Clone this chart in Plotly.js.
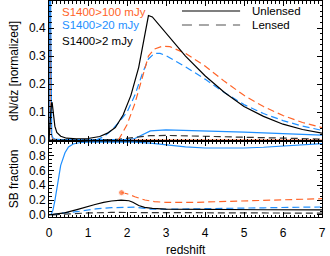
<!DOCTYPE html>
<html>
<head>
<meta charset="utf-8">
<script src="https://cdn.plot.ly/plotly-3.0.1.min.js"></script>
<style>html,body{margin:0;padding:0;background:#fff;}#chart{width:330px;height:256px;}</style>
</head>
<body>
<div id="chart"></div>
<script>
// ---------- Top panel: dN/dz [normalized] ----------
// S1400>2 mJy, unlensed (black solid)
const zTopBlackSolid = [0.0, 0.03, 0.06, 0.08, 0.11, 0.15, 0.2, 0.3, 0.45, 0.7, 1.0, 1.3, 1.5, 1.7, 1.9, 2.1, 2.3, 2.45, 2.55, 2.65, 2.8, 3.0, 3.5, 4.0, 4.5, 5.0, 5.5, 6.0, 6.5, 7.0];
const nTopBlackSolid = [0.0, 0.08, 0.13, 0.135, 0.10, 0.05, 0.028, 0.014, 0.007, 0.005, 0.006, 0.013, 0.025, 0.045, 0.09, 0.16, 0.26, 0.37, 0.445, 0.44, 0.415, 0.385, 0.30, 0.23, 0.17, 0.12, 0.085, 0.057, 0.038, 0.025];
// S1400>2 mJy, lensed (black dashed)
const zTopBlackDash = [0.0, 1.4, 1.8, 2.2, 2.6, 3.0, 4.0, 5.0, 6.0, 7.0];
const nTopBlackDash = [0.0, 0.001, 0.004, 0.01, 0.016, 0.017, 0.014, 0.01, 0.007, 0.004];
// S1400>20 mJy, unlensed (blue solid)
const zTopBlueSolid = [0.0, 0.025, 0.045, 0.07, 0.1, 0.15, 0.3, 1.0, 2.0, 2.2, 2.4, 2.6, 3.0, 4.0, 5.0, 6.0, 7.0];
const nTopBlueSolid = [0.0, 1.2, 0.4, 0.02, 0.008, 0.004, 0.002, 0.001, 0.002, 0.006, 0.02, 0.033, 0.037, 0.034, 0.029, 0.023, 0.018];
// S1400>20 mJy, lensed (blue dashed)
const zTopBlueDash = [1.2, 1.4, 1.6, 1.8, 2.0, 2.2, 2.4, 2.55, 2.7, 2.85, 3.0, 3.5, 4.0, 4.5, 5.0, 5.5, 6.0, 6.5, 7.0];
const nTopBlueDash = [0.0, 0.012, 0.035, 0.065, 0.10, 0.16, 0.24, 0.29, 0.31, 0.31, 0.302, 0.262, 0.218, 0.17, 0.127, 0.095, 0.07, 0.05, 0.035];
// S1400>100 mJy, unlensed (orange solid)
const zTopOrangeSolid = [0.0, 0.02, 0.04, 0.06, 0.1, 0.2, 7.0];
const nTopOrangeSolid = [0.0, 0.8, 0.3, 0.02, 0.002, 0.001, 0.0];
// S1400>100 mJy, lensed (orange dashed)
const zTopOrangeDash = [1.78, 1.9, 2.0, 2.2, 2.4, 2.55, 2.7, 2.9, 3.1, 3.5, 4.0, 4.5, 5.0, 5.5, 6.0, 6.5, 7.0];
const nTopOrangeDash = [0.0, 0.03, 0.055, 0.13, 0.23, 0.30, 0.325, 0.335, 0.334, 0.31, 0.265, 0.21, 0.16, 0.12, 0.088, 0.063, 0.045];

// ---------- Bottom panel: SB fraction ----------
const zBotBlueSolid = [0.05, 0.1, 0.15, 0.23, 0.3, 0.41, 0.5, 0.62, 0.8, 1.05, 1.5, 2.2, 2.6, 3.0, 3.5, 4.0, 4.5, 5.0, 5.5, 6.0, 6.5, 7.0];
const fBotBlueSolid = [0.0, 0.06, 0.19, 0.48, 0.67, 0.84, 0.92, 0.96, 0.98, 0.985, 0.985, 0.985, 0.97, 0.945, 0.92, 0.905, 0.90, 0.905, 0.915, 0.93, 0.95, 0.965];
const zBotBlackSolid = [0.0, 0.1, 0.4, 0.74, 1.0, 1.18, 1.4, 1.6, 1.85, 1.95, 2.05, 2.15, 2.3, 2.45, 2.65, 3.0, 3.7, 4.5, 5.5, 7.0];
const fBotBlackSolid = [0.0, 0.005, 0.025, 0.073, 0.115, 0.14, 0.168, 0.187, 0.2, 0.2, 0.19, 0.17, 0.125, 0.10, 0.087, 0.078, 0.073, 0.07, 0.068, 0.066];
const zBotBlueDash = [0.05, 0.3, 0.75, 1.2, 1.6, 2.0, 2.2, 2.4, 2.6, 3.0, 3.7, 4.5, 5.5, 6.5, 7.0];
const fBotBlueDash = [0.0, 0.02, 0.045, 0.08, 0.096, 0.106, 0.104, 0.09, 0.078, 0.075, 0.078, 0.085, 0.095, 0.103, 0.106];
const zBotBlackDash = [0.1, 0.5, 1.0, 1.6, 2.2, 3.0, 4.0, 5.5, 7.0];
const fBotBlackDash = [0.0, 0.015, 0.025, 0.032, 0.032, 0.028, 0.024, 0.022, 0.022];
const zBotOrangeDash = [1.86, 2.0, 2.2, 2.46, 2.7, 3.0, 3.7, 4.5, 5.5, 6.5, 7.0];
const fBotOrangeDash = [0.30, 0.285, 0.245, 0.20, 0.178, 0.168, 0.168, 0.178, 0.195, 0.21, 0.218];

// ---------- Labels ----------
const sampleLabels = ["S1400>100 mJy", "S1400>20 mJy", "S1400>2 mJy"];
const legendLabels = ["Unlensed", "Lensed"];
const xTitle = "redshift";
const topTicks = [0.0, 0.1, 0.2, 0.3, 0.4];
const botTicks = [0.0, 0.2, 0.4, 0.6, 0.8];
const xTicks = [0, 1, 2, 3, 4, 5, 6, 7];

const ORANGE = '#ff6428', BLUE = '#1e8fff', BLACK = '#000000', DARK = '#333333', GRAY = '#8a8a8a';
const DASH = '7px,4px';
const LW = 1.2;
const FONT = 'Liberation Sans, Arial, Helvetica, sans-serif';

function ln(x, y, color, dash, xa, ya, extra) {
  const t = {x: x, y: y, type: 'scatter', mode: 'lines', xaxis: xa, yaxis: ya,
    line: {color: color, width: LW, dash: dash || 'solid'}, hoverinfo: 'skip', showlegend: false};
  return Object.assign(t, extra || {});
}

const traces = [
  ln(zTopOrangeSolid, nTopOrangeSolid, ORANGE, null, 'x', 'y'),
  ln(zTopBlueSolid, nTopBlueSolid, BLUE, null, 'x', 'y'),
  ln(zTopBlackDash, nTopBlackDash, DARK, DASH, 'x', 'y'),
  ln(zTopBlueDash, nTopBlueDash, BLUE, DASH, 'x', 'y'),
  ln(zTopOrangeDash, nTopOrangeDash, ORANGE, DASH, 'x', 'y'),
  ln(zTopBlackSolid, nTopBlackSolid, BLACK, null, 'x', 'y'),
  ln(zBotBlueSolid, fBotBlueSolid, BLUE, null, 'x2', 'y2'),
  ln(zBotBlackDash, fBotBlackDash, DARK, DASH, 'x2', 'y2'),
  ln(zBotBlueDash, fBotBlueDash, BLUE, DASH, 'x2', 'y2'),
  ln(zBotBlackSolid, fBotBlackSolid, BLACK, null, 'x2', 'y2'),
  ln(zBotOrangeDash, fBotOrangeDash, ORANGE, DASH, 'x2', 'y2',
     {mode: 'lines+markers', marker: {color: ORANGE, size: fBotOrangeDash.map((v, i) => i === 0 ? 6 : 0)}}),
  // empty carrier trace for the label-only redshift axis
  {x: [], y: [], type: 'scatter', mode: 'lines', xaxis: 'x3', yaxis: 'y2', showlegend: false, hoverinfo: 'skip'}
];

// plot area: px 1 .. 224 (height 223); frame bottom at px 217, panel split at px 141
const B = 224, H = 223;
const BOT0 = (B - 217) / H, SPLIT = (B - 141) / H;
const common = {
  showline: true, linecolor: '#000', linewidth: 1, mirror: 'ticks',
  ticks: 'inside', ticklen: 5, tickwidth: 1, tickcolor: '#000',
  showgrid: false, zeroline: false,
  tickfont: {family: FONT, size: 12, color: '#000'}
};

const layout = {
  width: 330, height: 256,
  margin: {l: 49, r: 8, t: 1, b: 32},
  paper_bgcolor: '#fff', plot_bgcolor: '#fff',
  font: {family: FONT, color: '#000'},
  showlegend: false,
  xaxis: Object.assign({}, common, {
    domain: [0, 1], anchor: 'y', range: [0, 7], tickvals: xTicks, showticklabels: false,
    minor: {dtick: 0.1, ticklen: 2.5, ticks: 'inside', tickcolor: '#000'}
  }),
  yaxis: Object.assign({}, common, {
    domain: [SPLIT, 1], anchor: 'x', range: [-0.003, 0.497], tickvals: topTicks, tickformat: '.1f',
    minor: {dtick: 0.02, ticklen: 2.5, ticks: 'inside', tickcolor: '#000'},
    title: {text: 'dN/dz [normalized]', font: {family: FONT, size: 12, color: '#000'}, standoff: 7}
  }),
  xaxis2: Object.assign({}, common, {
    domain: [0, 1], anchor: 'y2', range: [0, 7], tickvals: xTicks, showticklabels: false,
    minor: {dtick: 0.1, ticklen: 2.5, ticks: 'inside', tickcolor: '#000'}
  }),
  xaxis3: {
    domain: [0, 1], overlaying: 'x2', anchor: 'free', position: 0.0, side: 'bottom',
    range: [0, 7], tickvals: xTicks, showline: false, ticks: '', showgrid: false, zeroline: false,
    tickfont: {family: FONT, size: 12, color: '#000'}
  },
  yaxis2: Object.assign({}, common, {
    domain: [BOT0, SPLIT], anchor: 'x2', range: [-0.03, 1.0], tickvals: botTicks, tickformat: '.1f',
    minor: {dtick: 0.05, ticklen: 2.5, ticks: 'inside', tickcolor: '#000'},
    title: {text: 'SB fraction', font: {family: FONT, size: 12, color: '#000'}, standoff: 7}
  }),
  annotations: [
    {text: sampleLabels[0], font: {family: FONT, size: 11.5, color: ORANGE}},
    {text: sampleLabels[1], font: {family: FONT, size: 11.5, color: BLUE}},
    {text: sampleLabels[2], font: {family: FONT, size: 11.5, color: BLACK}}
  ].map((a, i) => Object.assign(a, {xref: 'paper', yref: 'paper', x: 0.040, y: (B - [11.7, 25.5, 41.5][i]) / H,
      xanchor: 'left', yanchor: 'middle', showarrow: false})).concat(
    legendLabels.map((t, i) => ({text: t, xref: 'paper', yref: 'paper', x: 0.736, y: (B - [11, 25][i]) / H,
      xanchor: 'left', yanchor: 'middle', showarrow: false, font: {family: FONT, size: 11.5, color: '#000'}})),
    [{text: xTitle, xref: 'paper', yref: 'paper', x: 0.5, y: (B - 249.5) / H, xanchor: 'center', yanchor: 'middle',
      showarrow: false, font: {family: FONT, size: 12, color: '#000'}}]
  ),
  shapes: [
    {type: 'line', xref: 'paper', yref: 'paper', x0: 0.487, x1: 0.70, y0: (B - 11) / H, y1: (B - 11) / H,
     line: {color: BLACK, width: LW}},
    {type: 'line', xref: 'paper', yref: 'paper', x0: 0.487, x1: 0.70, y0: (B - 25) / H, y1: (B - 25) / H,
     line: {color: GRAY, width: 1.4, dash: '10px,7px'}}
  ]
};

Plotly.newPlot('chart', traces, layout, {staticPlot: true, displayModeBar: false});
</script>
</body>
</html>
